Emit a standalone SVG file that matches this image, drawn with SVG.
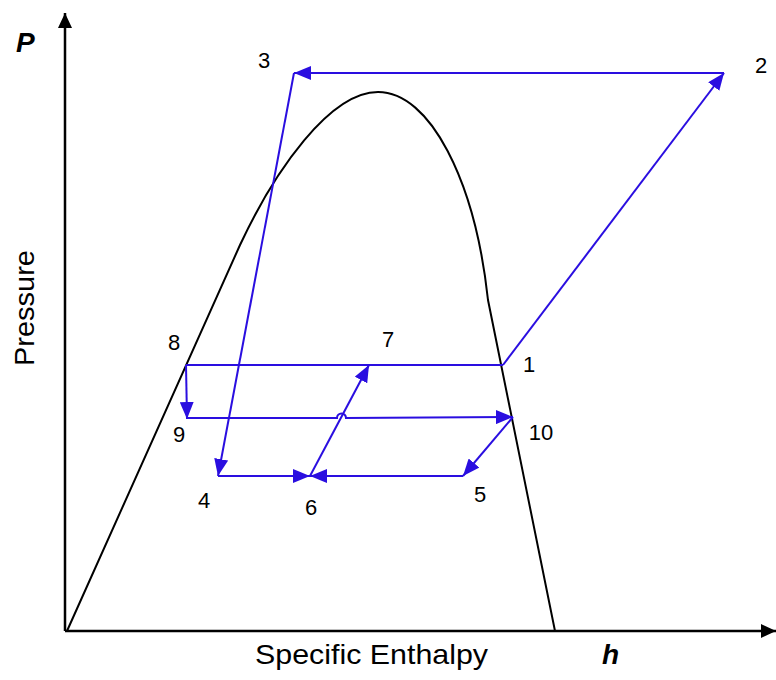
<svg xmlns="http://www.w3.org/2000/svg" width="776" height="680" viewBox="0 0 776 680">
<style>
.ax{stroke:#000;stroke-width:2.5;fill:none}
.cv{stroke:#000;stroke-width:2;fill:none}
.bl{stroke:#2A0EE0;stroke-width:2;fill:none}
.lb{font-family:"Liberation Sans",Arial,sans-serif;font-size:22px;fill:#000}
.big{font-family:"Liberation Sans",Arial,sans-serif;font-size:28px;fill:#000}
</style>
<defs>
<marker id="ab" markerUnits="userSpaceOnUse" markerWidth="18" markerHeight="14" viewBox="0 0 18 14" refX="17" refY="7" orient="auto">
<path d="M0,0 L17,7 L0,14 Z" fill="#2A0EE0"/>
</marker>
<marker id="ak" markerUnits="userSpaceOnUse" markerWidth="16" markerHeight="14" viewBox="0 0 16 14" refX="15" refY="7" orient="auto">
<path d="M0,0 L15,7 L0,14 Z" fill="#000"/>
</marker>
</defs>
<g id="axes">
<line class="ax" x1="65" y1="631" x2="65" y2="13" marker-end="url(#ak)"/>
<line class="ax" x1="65" y1="631" x2="776" y2="631" marker-end="url(#ak)"/>
</g>
<g id="dome">
<path class="cv" d="M67,631 L240,245 C275,170 330,92 378,92 C430,92 475,180 488,300 L555,631"/>
</g>
<g id="connectors">
<line class="bl" x1="724" y1="73" x2="294" y2="73" marker-end="url(#ab)"/>
<line class="bl" x1="294" y1="73" x2="218" y2="476" marker-end="url(#ab)"/>
<line class="bl" x1="218" y1="476" x2="310" y2="476" marker-end="url(#ab)"/>
<line class="bl" x1="463" y1="476" x2="310" y2="476" marker-end="url(#ab)"/>
<line class="bl" x1="310" y1="476" x2="369" y2="365" marker-end="url(#ab)"/>
<line class="bl" x1="186" y1="365" x2="503" y2="365"/>
<line class="bl" x1="186" y1="365" x2="187" y2="419" marker-end="url(#ab)"/>
<path class="bl" d="M187,418 L337,418 A4.5,4.5 0 0 1 346,418 L513,417" marker-end="url(#ab)"/>
<line class="bl" x1="513" y1="417" x2="463" y2="476" marker-end="url(#ab)"/>
<line class="bl" x1="503" y1="365" x2="724" y2="73" marker-end="url(#ab)"/>
</g>
<g id="labels">
<text class="lb" x="264" y="68" text-anchor="middle">3</text>
<text class="lb" x="761" y="73" text-anchor="middle">2</text>
<text class="lb" x="174" y="350" text-anchor="middle">8</text>
<text class="lb" x="388" y="347" text-anchor="middle">7</text>
<text class="lb" x="529" y="372" text-anchor="middle">1</text>
<text class="lb" x="179" y="442" text-anchor="middle">9</text>
<text class="lb" x="541" y="440" text-anchor="middle">10</text>
<text class="lb" x="204" y="508" text-anchor="middle">4</text>
<text class="lb" x="311" y="515" text-anchor="middle">6</text>
<text class="lb" x="480" y="502" text-anchor="middle">5</text>
<text class="big" x="16" y="52" font-size="30" font-weight="bold" font-style="italic">P</text>
<text class="big" x="602" y="664" font-weight="bold" font-style="italic">h</text>
<text class="big" x="255" y="664" textLength="233" lengthAdjust="spacingAndGlyphs">Specific Enthalpy</text>
<text class="big" transform="translate(34,366) rotate(-90)" x="0" y="0" textLength="116" lengthAdjust="spacingAndGlyphs">Pressure</text>
</g>
</svg>
